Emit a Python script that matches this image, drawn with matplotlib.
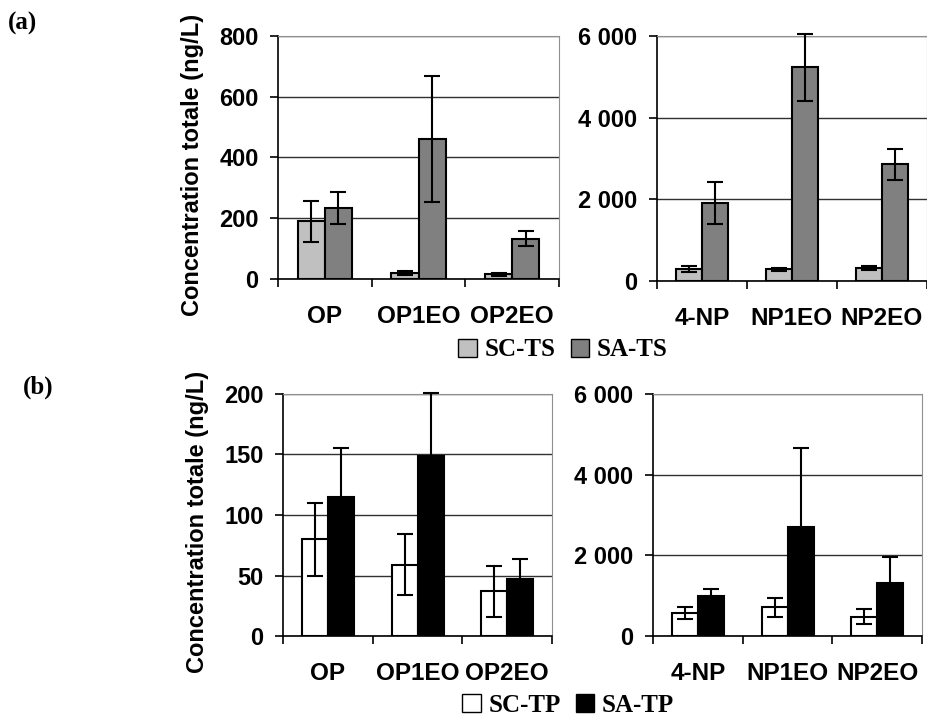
"""Alkylphenol concentrations, SC vs SA, dissolved (a) and particulate (b) phases."""

import matplotlib
matplotlib.use("Agg")
import matplotlib.pyplot as plt
import numpy as np
from matplotlib.patches import Patch
from matplotlib.ticker import FuncFormatter

OP_LABELS = ["OP", "OP1EO", "OP2EO"]
NP_LABELS = ["4-NP", "NP1EO", "NP2EO"]

# (a) phase dissoute
TS_OP_SC = [190, 20, 16]
TS_OP_SC_ERR = [68, 6, 5]
TS_OP_SA = [234, 461, 133]
TS_OP_SA_ERR = [52, 207, 26]
TS_NP_SC = [290, 286, 327]
TS_NP_SC_ERR = [75, 40, 50]
TS_NP_SA = [1913, 5240, 2861]
TS_NP_SA_ERR = [515, 820, 380]

# (b) phase particulaire
TP_OP_SC = [80, 59, 37]
TP_OP_SC_ERR = [30, 25, 21]
TP_OP_SA = [115, 149, 47]
TP_OP_SA_ERR = [40, 52, 17]
TP_NP_SC = [571, 712, 480]
TP_NP_SC_ERR = [140, 230, 185]
TP_NP_SA = [993, 2714, 1324]
TP_NP_SA_ERR = [175, 1945, 637]

SANS = "Liberation Sans"
SERIF = "Liberation Serif"
BAR_W = 0.29


def thousands(value, _pos):
    return f"{int(value):,}".replace(",", " ")


def draw_panel(fig, rect, labels, sc, sc_err, sa, sa_err, colors, ymax, ystep, big):
    ax = fig.add_axes(rect)
    x = np.arange(len(labels))
    err_kw = dict(ecolor="black", elinewidth=1.5, capsize=6, capthick=1.5)
    containers = [
        ax.bar(x - BAR_W / 2, sc, BAR_W, yerr=sc_err, color=colors[0],
               edgecolor="black", linewidth=1.5, error_kw=err_kw, zorder=3),
        ax.bar(x + BAR_W / 2, sa, BAR_W, yerr=sa_err, color=colors[1],
               edgecolor="black", linewidth=1.5, error_kw=err_kw, zorder=3),
    ]
    # les barres d'erreur peuvent dépasser le haut de l'axe, comme dans l'original
    for cont in containers:
        _, caps, cols = cont.errorbar.lines
        for artist in list(caps) + list(cols):
            artist.set_clip_on(False)

    ax.set_xlim(-0.5, len(labels) - 0.5)
    ax.set_ylim(0, ymax)
    ax.set_yticks(np.arange(0, ymax + 1, ystep))
    ax.yaxis.grid(True, color="#303030", linewidth=1, zorder=0)
    ax.set_axisbelow(True)
    if big:
        ax.yaxis.set_major_formatter(FuncFormatter(thousands))

    ax.set_xticks(x)
    ax.set_xticklabels(labels, fontsize=17.5, fontweight="bold", family=SANS)
    ax.tick_params(axis="x", which="major", length=0, pad=19)
    ax.set_xticks(np.arange(-0.5, len(labels)), minor=True)
    ax.tick_params(axis="x", which="minor", length=6, width=1.2, direction="out")
    ax.tick_params(axis="y", length=6, width=1.2, pad=8)
    for lab in ax.get_yticklabels():
        lab.set_fontsize(17)
        lab.set_fontweight("bold")
        lab.set_family(SANS)

    ax.spines["left"].set_color("black")
    ax.spines["bottom"].set_color("black")
    ax.spines["left"].set_linewidth(1.2)
    ax.spines["bottom"].set_linewidth(1.2)
    ax.spines["top"].set_color("#909090")
    ax.spines["right"].set_color("#909090")
    return ax


fig = plt.figure(figsize=(9.28, 7.22), dpi=100)

ts_colors = ["#c0c0c0", "#808080"]
tp_colors = ["white", "black"]

ax_a1 = draw_panel(fig, [0.2996, 0.6136, 0.3028, 0.3366], OP_LABELS,
                   TS_OP_SC, TS_OP_SC_ERR, TS_OP_SA, TS_OP_SA_ERR, ts_colors, 800, 200, False)
ax_a2 = draw_panel(fig, [0.708, 0.6108, 0.2905, 0.3393], NP_LABELS,
                   TS_NP_SC, TS_NP_SC_ERR, TS_NP_SA, TS_NP_SA_ERR, ts_colors, 6000, 2000, True)
ax_b1 = draw_panel(fig, [0.305, 0.1191, 0.2899, 0.3352], OP_LABELS,
                   TP_OP_SC, TP_OP_SC_ERR, TP_OP_SA, TP_OP_SA_ERR, tp_colors, 200, 50, False)
ax_b2 = draw_panel(fig, [0.7037, 0.1191, 0.2899, 0.3352], NP_LABELS,
                   TP_NP_SC, TP_NP_SC_ERR, TP_NP_SA, TP_NP_SA_ERR, tp_colors, 6000, 2000, True)

ylabel = "Concentration totale (ng/L)"
fig.text(193 / 928, 1 - 165 / 722, ylabel, rotation=90, ha="center", va="center",
         fontsize=17, fontweight="bold", family=SANS)
fig.text(198 / 928, 1 - 522 / 722, ylabel, rotation=90, ha="center", va="center",
         fontsize=17, fontweight="bold", family=SANS)

fig.text(8 / 928, 1 - 23 / 722, "(a)", ha="left", va="center",
         fontsize=18, fontweight="bold", family=SERIF)
fig.text(23 / 928, 1 - 387 / 722, "(b)", ha="left", va="center",
         fontsize=18, fontweight="bold", family=SERIF)

legend_font = dict(family=SERIF, weight="bold", size=18)
leg_kw = dict(loc="center", ncol=2, frameon=False, prop=legend_font,
              handlelength=0.75, handleheight=0.75, handletextpad=0.3,
              columnspacing=0.6, borderpad=0)
fig.legend(handles=[Patch(facecolor=ts_colors[0], edgecolor="black", label="SC-TS"),
                    Patch(facecolor=ts_colors[1], edgecolor="black", label="SA-TS")],
           bbox_to_anchor=(563 / 928, 1 - 350 / 722), **leg_kw)
fig.legend(handles=[Patch(facecolor=tp_colors[0], edgecolor="black", label="SC-TP"),
                    Patch(facecolor=tp_colors[1], edgecolor="black", label="SA-TP")],
           bbox_to_anchor=(568 / 928, 1 - 705 / 722), **leg_kw)

fig.savefig("out.png", dpi=100)
